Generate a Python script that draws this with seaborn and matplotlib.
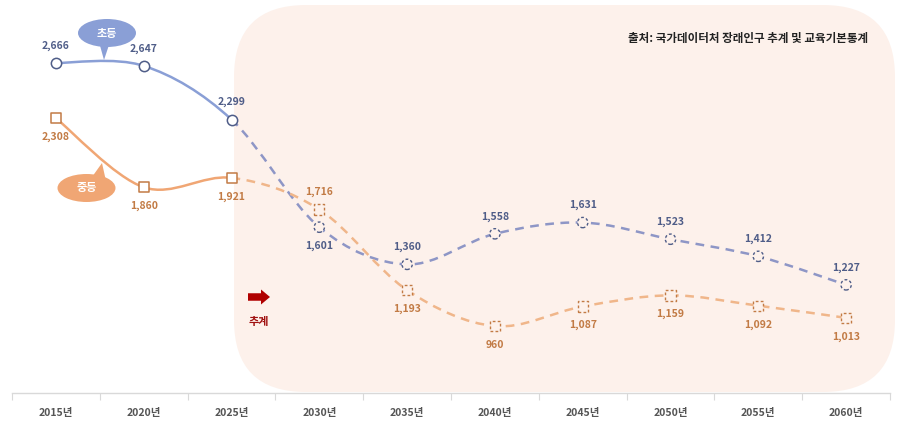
import numpy as np
import pandas as pd
import matplotlib.pyplot as plt
import seaborn as sns
from matplotlib.path import Path
from matplotlib.patches import PathPatch, FancyBboxPatch, Ellipse, Polygon, FancyArrow

years = ['2015년', '2020년', '2025년', '2030년', '2035년',
         '2040년', '2045년', '2050년', '2055년', '2060년']
elem = [2666, 2647, 2299, 1601, 1360, 1558, 1631, 1523, 1412, 1227]
mid = [2308, 1860, 1921, 1716, 1193, 960, 1087, 1159, 1092, 1013]
elem_side = ['up', 'up', 'up', 'down', 'up', 'up', 'up', 'up', 'up', 'up']
mid_side = ['down', 'down', 'down', 'up', 'down', 'down', 'down', 'down', 'down', 'down']
last_actual = 2  # 2025 is the last observed point, after that projection

sns.set_theme(style='white')
plt.rcParams['font.family'] = ['Noto Sans CJK KR', 'DejaVu Sans']

BLUE = '#8a9fd6'
BLUE_D = '#8e96c6'
BLUE_T = '#4f5d88'
ORANGE = '#f0a674'
ORANGE_D = '#f0b68a'
ORANGE_T = '#c27b45'
PINK = '#fdf1eb'

df = pd.DataFrame({
    'x': list(range(len(years))) * 2,
    'value': elem + mid,
    'group': ['초등'] * len(years) + ['중등'] * len(years),
})
df['kind'] = np.where(df['x'] <= last_actual, 'actual', 'proj')

fig = plt.figure(figsize=(9, 4.28), dpi=100, facecolor='white')
ax = fig.add_axes([12 / 900, 1 - 393 / 428, 878 / 900, 393 / 428])
ax.set_xlim(-0.5, len(years) - 0.5)
ax.set_ylim(526, 3074)
ax.patch.set_alpha(0)

tr = fig.dpi_scale_trans
H = 4.28

# projection background, in inches so the corners stay round
bg = FancyBboxPatch((2.34, 0.36), 6.61, 3.87,
                    boxstyle='round,pad=0,rounding_size=0.72',
                    transform=tr, facecolor=PINK,
                    edgecolor='none', zorder=0.5, clip_on=False)
ax.add_patch(bg)


def smooth(vals, i0, i1):
    n = len(vals)
    pts = [np.array([i, v], dtype=float) for i, v in enumerate(vals)]
    verts = [pts[i0]]
    codes = [Path.MOVETO]
    for i in range(i0, i1):
        p0 = pts[max(i - 1, 0)]
        p1 = pts[i]
        p2 = pts[i + 1]
        p3 = pts[min(i + 2, n - 1)]
        verts += [p1 + (p2 - p0) / 6, p2 - (p3 - p1) / 6, p2]
        codes += [Path.CURVE4] * 3
    return Path(verts, codes)


for vals, c, cd in [(elem, BLUE, BLUE_D), (mid, ORANGE, ORANGE_D)]:
    ax.add_patch(PathPatch(smooth(vals, 0, last_actual), facecolor='none',
                           edgecolor=c, lw=1.8, zorder=2))
    ax.add_patch(PathPatch(smooth(vals, last_actual, len(vals) - 1),
                           facecolor='none', edgecolor=cd, lw=1.8,
                           linestyle=(0, (3.5, 2.6)), zorder=2))

for grp, mk, col in [('초등', 'o', BLUE_T), ('중등', 's', ORANGE_T)]:
    sub = df[df['group'] == grp]
    a = sub[sub['kind'] == 'actual']
    p = sub[sub['kind'] == 'proj']
    sns.scatterplot(data=a, x='x', y='value', marker=mk, s=55,
                    color='white', edgecolor=col, linewidth=1.1,
                    ax=ax, zorder=4, legend=False)
    sns.scatterplot(data=p, x='x', y='value', marker=mk, s=55,
                    color=PINK, edgecolor=col, linewidth=1.0,
                    linestyle=(0, (2, 1.6)), ax=ax, zorder=4, legend=False)

for vals, sides, col in [(elem, elem_side, BLUE_T), (mid, mid_side, ORANGE_T)]:
    for i, (v, sd) in enumerate(zip(vals, sides)):
        off = 12.5 if sd == 'up' else -13.5
        ax.annotate(f'{v:,}', (i, v), xytext=(0, off), textcoords='offset points',
                    ha='center', va='center', fontsize=7.5, color=col,
                    fontweight='bold', zorder=5)

ax.set_xticks(range(len(years)))
ax.set_xticklabels(years, fontsize=7.5, fontweight='bold', color='#555555')
ax.set_xticks(np.arange(-0.5, len(years)), minor=True)
ax.tick_params(axis='x', which='major', length=0, pad=11)
ax.tick_params(axis='x', which='minor', length=5, color='#d9d9d9', width=0.8,
               bottom=True)
ax.set_yticks([])
ax.set_xlabel('')
ax.set_ylabel('')
for s in ['top', 'left', 'right']:
    ax.spines[s].set_visible(False)
ax.spines['bottom'].set_color('#d9d9d9')
ax.spines['bottom'].set_linewidth(1.0)

# callouts, drawn in inches (y from bottom)
fig.patches.append(Polygon([(0.99, H - 0.42), (1.10, H - 0.42), (1.04, H - 0.60)],
                           closed=True, transform=tr, facecolor=BLUE,
                           edgecolor='none', zorder=3))
fig.patches.append(Ellipse((1.07, H - 0.33), 0.58, 0.28, transform=tr,
                           facecolor=BLUE, edgecolor='none', zorder=3))
fig.text(1.07 / 9, (H - 0.33) / H, '초등', ha='center', va='center',
         color='white', fontsize=8, fontweight='bold')

fig.patches.append(Polygon([(0.92, H - 1.77), (1.06, H - 1.81), (1.02, H - 1.63)],
                           closed=True, transform=tr, facecolor=ORANGE,
                           edgecolor='none', zorder=3))
fig.patches.append(Ellipse((0.865, H - 1.88), 0.58, 0.28, transform=tr,
                           facecolor=ORANGE, edgecolor='none', zorder=3))
fig.text(0.865 / 9, (H - 1.88) / H, '중등', ha='center', va='center',
         color='white', fontsize=8, fontweight='bold')

# projection marker
fig.patches.append(FancyArrow(2.48, H - 2.97, 0.13, 0, width=0.075,
                              head_width=0.15, head_length=0.09,
                              length_includes_head=False, transform=tr,
                              facecolor='#b00000', edgecolor='none', zorder=3))
fig.text(2.59 / 9, (H - 3.22) / H, '추계', ha='center', va='center',
         color='#a01010', fontsize=8, fontweight='bold')

fig.text(8.68 / 9, (H - 0.38) / H, '출처: 국가데이터처 장래인구 추계 및 교육기본통계',
         ha='right', va='center', fontsize=8.3, fontweight='bold', color='#222222')

fig.savefig('out.png', dpi=100)
